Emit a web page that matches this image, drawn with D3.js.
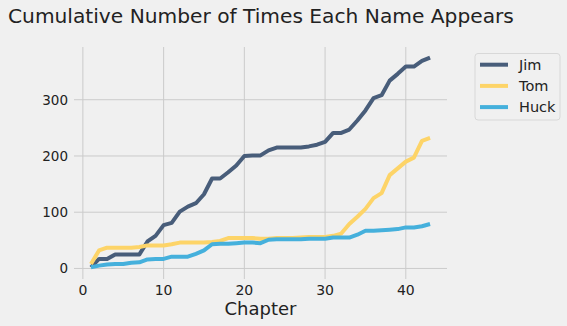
<!DOCTYPE html>
<html>
<head>
<meta charset="utf-8">
<script src="https://cdn.jsdelivr.net/npm/d3@7"></script>
<style>
  body { margin: 0; background: #f0f0f0; }
  svg { display: block; font-family: "DejaVu Sans", sans-serif; }
</style>
</head>
<body>
<script>
var chapters = d3.range(1, 44);
var names = ["Jim", "Tom", "Huck"];
var colors = ["#485d7a", "#fdd468", "#45b0dc"];

var jim = [2, 17, 17, 25, 25, 25, 25, 48, 58, 77, 81, 101, 110, 116, 132, 160, 160, 171, 183, 200,
  201, 201, 210, 215, 215, 215, 215, 217, 220, 225, 241, 241, 247, 263, 281, 303, 308, 334, 346, 359,
  359, 369, 375];
var tom = [8, 32, 37, 37, 37, 37, 38, 41, 41, 41, 43, 46, 46, 46, 46, 47, 49, 54, 54, 54,
  54, 53, 53, 54, 54, 54, 55, 56, 56, 56, 58, 62, 79, 92, 106, 125, 134, 166, 178, 190,
  197, 227, 232];
var huck = [2, 5, 7, 8, 8, 10, 11, 16, 17, 17, 21, 21, 21, 26, 32, 43, 44, 44, 45, 46,
  46, 45, 51, 52, 52, 52, 52, 53, 53, 53, 55, 55, 55, 60, 67, 67, 68, 69, 70, 73,
  73, 75, 79];
var seriesValues = [jim, tom, huck];

var xTicks = [0, 10, 20, 30, 40];
var yTicks = [0, 100, 200, 300];

var width = 567, height = 326;
var margin = { left: 74, right: 120, top: 47, bottom: 47 };

var svg = d3.select("body").append("svg")
  .attr("width", width)
  .attr("height", height);

svg.append("rect").attr("width", width).attr("height", height).attr("fill", "#f0f0f0");

var x = d3.scaleLinear()
  .domain([-1.1, 45.1])
  .range([margin.left, width - margin.right]);

var y = d3.scaleLinear()
  .domain([-18.75, 393.75])
  .range([height - margin.bottom, margin.top]);

// grid
svg.append("g").selectAll("line").data(xTicks).enter().append("line")
  .attr("x1", function (d) { return x(d); })
  .attr("x2", function (d) { return x(d); })
  .attr("y1", y.range()[0])
  .attr("y2", y.range()[1])
  .attr("stroke", "#cbcbcb")
  .attr("stroke-width", 1);

svg.append("g").selectAll("line").data(yTicks).enter().append("line")
  .attr("x1", x.range()[0])
  .attr("x2", x.range()[1])
  .attr("y1", function (d) { return y(d); })
  .attr("y2", function (d) { return y(d); })
  .attr("stroke", "#cbcbcb")
  .attr("stroke-width", 1);

// tick labels
svg.append("g").selectAll("text").data(xTicks).enter().append("text")
  .attr("x", function (d) { return x(d); })
  .attr("y", 295)
  .attr("text-anchor", "middle")
  .attr("font-size", 14)
  .attr("fill", "#222")
  .text(function (d) { return d; });

svg.append("g").selectAll("text").data(yTicks).enter().append("text")
  .attr("x", 68)
  .attr("y", function (d) { return y(d); })
  .attr("dy", "0.36em")
  .attr("text-anchor", "end")
  .attr("font-size", 13.5)
  .attr("fill", "#222")
  .text(function (d) { return d; });

svg.append("text")
  .attr("x", (x.range()[0] + x.range()[1]) / 2)
  .attr("y", 315)
  .attr("text-anchor", "middle")
  .attr("font-size", 18)
  .attr("fill", "#222")
  .text("Chapter");

svg.append("text")
  .attr("x", 8)
  .attr("y", 23)
  .attr("font-size", 20.2)
  .attr("fill", "#222")
  .text("Cumulative Number of Times Each Name Appears");

// lines
var line = d3.line()
  .x(function (d, i) { return x(chapters[i]); })
  .y(function (d) { return y(d); });

svg.append("g").selectAll("path").data(seriesValues).enter().append("path")
  .attr("d", line)
  .attr("fill", "none")
  .attr("stroke", function (d, i) { return colors[i]; })
  .attr("stroke-width", 4)
  .attr("stroke-linejoin", "round");

// legend
var legend = svg.append("g");
legend.append("rect")
  .attr("x", 475).attr("y", 53.5)
  .attr("width", 85).attr("height", 66.5)
  .attr("rx", 3)
  .attr("fill", "#f0f0f0")
  .attr("stroke", "#d8d8d8");

var items = legend.selectAll("g.item").data(names).enter().append("g")
  .attr("class", "item")
  .attr("transform", function (d, i) { return "translate(0," + (64.7 + i * 21.2) + ")"; });

items.append("line")
  .attr("x1", 480).attr("x2", 508)
  .attr("stroke", function (d, i) { return colors[i]; })
  .attr("stroke-width", 4);

items.append("text")
  .attr("x", 519)
  .attr("dy", "0.36em")
  .attr("font-size", 14.5)
  .attr("fill", "#222")
  .text(function (d) { return d; });
</script>
</body>
</html>
